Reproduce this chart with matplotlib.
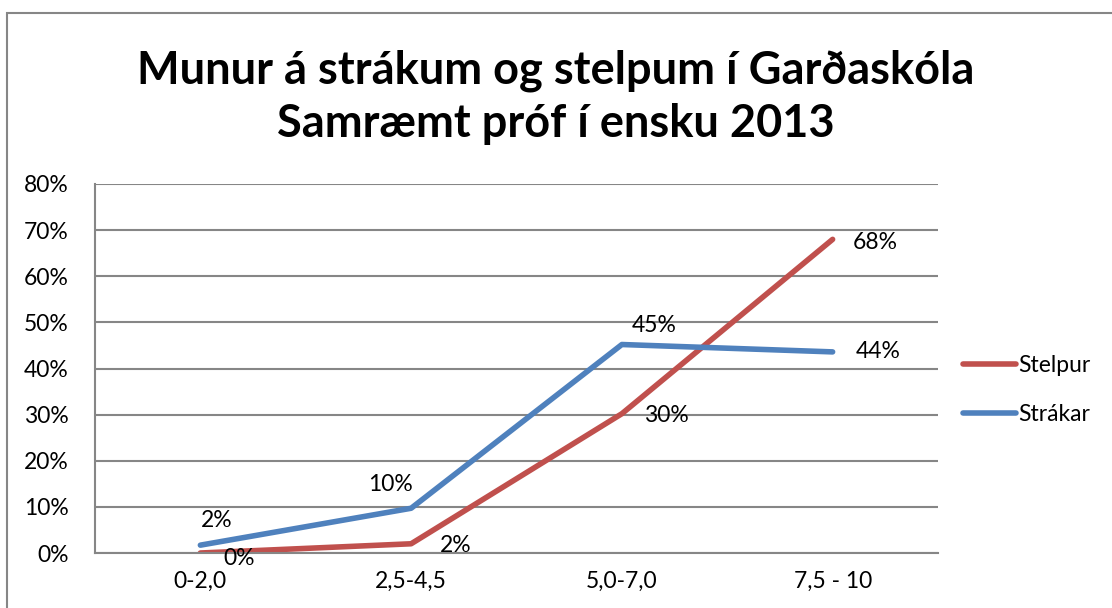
import matplotlib
matplotlib.use("Agg")
import matplotlib.pyplot as plt
from matplotlib.patches import Rectangle
from matplotlib.ticker import MultipleLocator, FuncFormatter

plt.rcParams["font.family"] = ["Lato", "DejaVu Sans"]

categories = ["0-2,0", "2,5-4,5", "5,0-7,0", "7,5 - 10"]
stelpur = [0.0, 2.0, 30.2, 68.0]
strakar = [1.7, 9.7, 45.2, 43.6]
stelpur_labels = ["0%", "2%", "30%", "68%"]
strakar_labels = ["2%", "10%", "45%", "44%"]

RED = "#c0504d"
BLUE = "#4f81bd"
FS = 16.5

fig = plt.figure(figsize=(11.12, 6.08), dpi=100)
W, H = 1112, 608

# chart frame
fig.patches.append(Rectangle((7 / W, -0.2), 1.2, 1.2 - 13 / H, transform=fig.transFigure,
                             fill=False, edgecolor="#868686", lw=1.5))

ax = fig.add_axes([95 / W, 1 - 553 / H, 843 / W, 369 / H])
x = list(range(len(categories)))
ax.plot(x, stelpur, color=RED, lw=4, label="Stelpur", solid_capstyle="round")
ax.plot(x, strakar, color=BLUE, lw=4, label="Strákar", solid_capstyle="round")

ax.set_xlim(-0.5, 3.5)
ax.set_ylim(0, 80)
ax.yaxis.set_major_locator(MultipleLocator(10))
ax.yaxis.set_major_formatter(FuncFormatter(lambda v, p: f"{v:.0f}%"))
ax.set_xticks(x)
ax.set_xticklabels(categories)
ax.tick_params(axis="both", length=0, labelsize=FS, colors="black", pad=13)
ax.tick_params(axis="y", pad=19)
ax.grid(axis="y", color="#868686", lw=1.5)
ax.set_axisbelow(True)
for s in ["top", "right"]:
    ax.spines[s].set_visible(False)
ax.spines["left"].set_color("#868686")
ax.spines["bottom"].set_color("#868686")
ax.spines["left"].set_linewidth(1.5)
ax.spines["bottom"].set_linewidth(1.5)

# data labels (offsets in points)
red_off = [(28, -4), (32, -1), (32, -1), (31, -2)]
blue_off = [(12, 18), (-15, 17), (23, 14), (33, 0)]
for i, (v, t) in enumerate(zip(stelpur, stelpur_labels)):
    ax.annotate(t, (i, v), xytext=red_off[i], textcoords="offset points",
                ha="center", va="center", fontsize=FS, annotation_clip=False)
for i, (v, t) in enumerate(zip(strakar, strakar_labels)):
    ax.annotate(t, (i, v), xytext=blue_off[i], textcoords="offset points",
                ha="center", va="center", fontsize=FS, annotation_clip=False)

fig.text(0.5, 1 - 97 / H, "Munur á strákum og stelpum í Garðaskóla\nSamræmt próf í ensku 2013",
         ha="center", va="center", fontsize=32.5, fontweight="bold", linespacing=1.32)

leg = fig.legend(loc="center left", bbox_to_anchor=(954 / W, 1 - 390 / H), frameon=False,
                 fontsize=FS, handlelength=2.3, handletextpad=0.1, labelspacing=1.2,
                 borderaxespad=0)

fig.savefig("out.png", dpi=100)
